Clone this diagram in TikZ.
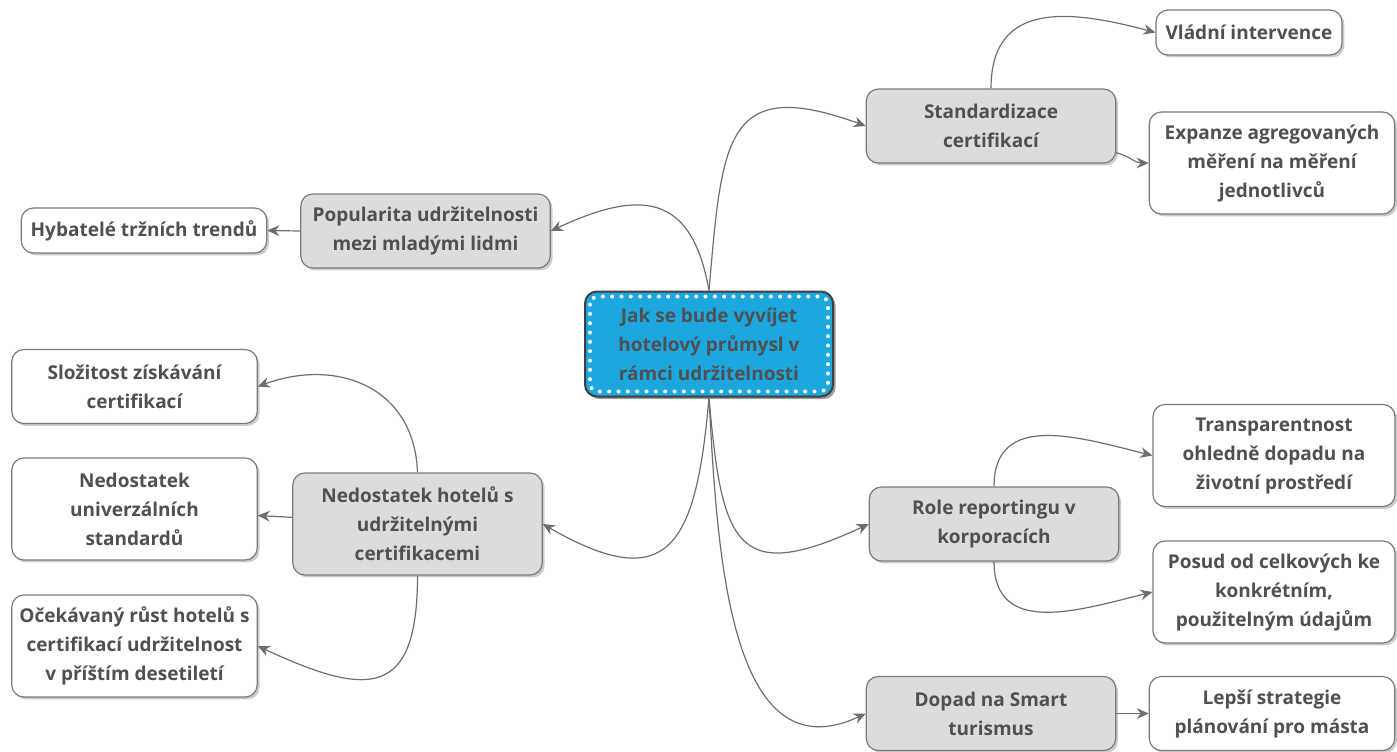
\documentclass[tikz,border=0pt]{standalone}
\usepackage{fontspec}
\setmainfont{Open Sans}
\usetikzlibrary{shadows, arrows.meta}

\definecolor{txtgray}{HTML}{505050}
\definecolor{edgegray}{HTML}{6E6E6E}
\definecolor{framegray}{HTML}{7A7A7A}
\definecolor{topicgray}{HTML}{DCDCDC}
\definecolor{rootblue}{HTML}{1DA7DF}

\begin{document}
\begin{tikzpicture}[
        x=0.75pt, y=0.75pt,
        every node/.style={draw=framegray, line width=0.9pt, rounded corners=9pt, align=center, inner sep=0pt,
            text=txtgray, font=\fontsize{14.25pt}{21.75pt}\selectfont\bfseries,
            drop shadow={opacity=0.4, shadow xshift=1.8pt, shadow yshift=-1.8pt}},
        root/.style={fill=rootblue, draw=black!75, line width=1.5pt, minimum width=186pt, minimum height=78.75pt,
            drop shadow={opacity=0.6, shadow xshift=2pt, shadow yshift=-2pt}},
        topic/.style={fill=topicgray, minimum width=187pt},
        leaf/.style={fill=white, minimum width=184pt},
        oneline/.style={minimum height=33.75pt},
        twoline/.style={minimum height=55.5pt},
        threeline/.style={minimum height=76.5pt},
        link/.style={-{Stealth[length=9pt, width=8pt]}, draw=edgegray, line width=0.9pt},
        dots/.style={draw=white, line width=3pt, line cap=round, dash pattern=on 0pt off 7pt, rounded corners=6pt}
    ]
    \useasboundingbox (0,0) rectangle (1397,-751);

    % Root
    \node[root] (root) at (709,-344) {Jak se bude vyvíjet\\hotelový průmysl v\\rámci udržitelnosti};
    \draw[dots] ([shift={(6,-6)}]root.north west) rectangle ([shift={(-6,6)}]root.south east);

    % Level 1: topics
    \node[topic, twoline] (std) at (991,-126) {Standardizace\\certifikací};
    \node[topic, twoline] (pop) at (425.5,-231) {Popularita udržitelnosti\\mezi mladými lidmi};
    \node[topic, threeline] (ned) at (417.5,-524) {Nedostatek hotelů s\\udržitelnými\\certifikacemi};
    \node[topic, twoline] (role) at (994,-524) {Role reportingu v\\korporacích};
    \node[topic, twoline] (dopad) at (991,-713.5) {Dopad na Smart\\turismus};

    % Edges root -> topics
    \draw[link] (root.north) to[out=85, in=160, looseness=1.7] (std.west);
    \draw[link] (root.north) to[out=100, in=25, looseness=1.5] (pop.east);
    \draw[link] (root.south) to[out=-95, in=-30, looseness=1.8] (ned.east);
    \draw[link] (root.south) to[out=-85, in=205, looseness=1.85] (role.west);
    \draw[link] (root.south) to[out=-87, in=205, looseness=1.1] (dopad.west);

    % Level 2: leaves
    \node[leaf, oneline, minimum width=139.5pt] (vlad) at (1249,-32.5) {Vládní intervence};
    \node[leaf, threeline] (expz) at (1272,-163) {Expanze agregovaných\\měření na měření\\jednotlivců};
    \draw[link] (std.north) to[out=90, in=165, looseness=1.3] (vlad.west);
    \draw[link] (std.-12) to[out=-15, in=180] (expz.west);

    \node[leaf, oneline] (hyb) at (144,-230.5) {Hybatelé tržních trendů};
    \draw[link] (pop.west) -- (hyb.east);

    \node[leaf, twoline] (slozit) at (134.5,-386.5) {Složitost získávání\\certifikací};
    \node[leaf, threeline] (univ) at (134.5,-509) {Nedostatek\\univerzálních\\standardů};
    \node[leaf, threeline] (ocek) at (134.5,-646) {Očekávaný růst hotelů s\\certifikací udržitelnost\\v příštím desetiletí};
    \draw[link] (ned.north) to[out=92, in=20, looseness=1.2] (slozit.east);
    \draw[link] (ned) -- (univ);
    \draw[link] (ned.south) to[out=-90, in=-25, looseness=1.8] (ocek.east);

    \node[leaf, threeline, minimum width=181.5pt] (transp) at (1274,-455.5) {Transparentnost\\ohledně dopadu na\\životní prostředí};
    \node[leaf, threeline, minimum width=181.5pt] (posud) at (1274,-592) {Posud od celkových ke\\konkrétním,\\použitelným údajům};
    \draw[link] (role.north) to[out=90, in=166, looseness=1.2] (transp.west);
    \draw[link] (role.south) to[out=-90, in=194, looseness=1.2] (posud.west);

    \node[leaf, twoline] (lepsi) at (1272,-713.5) {Lepší strategie\\plánování pro másta};
    \draw[link] (dopad.east) -- (lepsi.west);

    \end{tikzpicture}
\end{document}
